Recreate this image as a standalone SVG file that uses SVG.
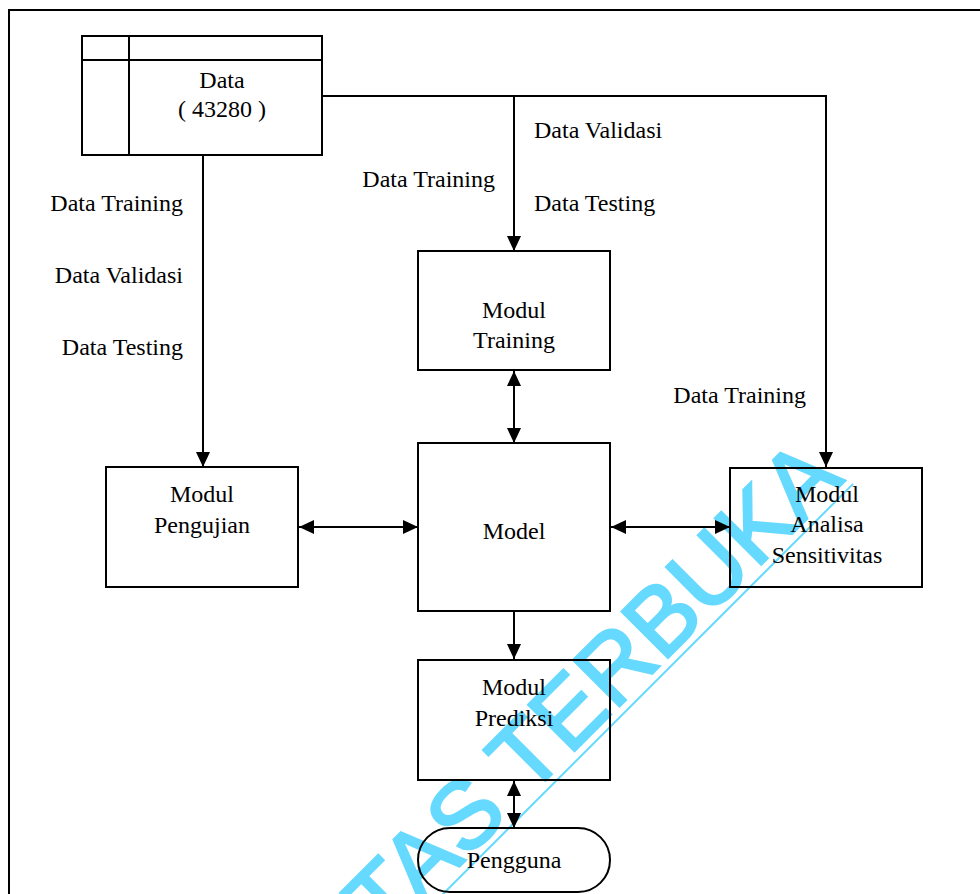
<svg xmlns="http://www.w3.org/2000/svg" width="980" height="894" viewBox="0 0 980 894">
  <style>
    .box { fill: none; stroke: #000; stroke-width: 2; }
    .conn { fill: none; stroke: #000; stroke-width: 2; }
    .mid { text-anchor: middle; }
    .end { text-anchor: end; }
  </style>
  <defs>
    <marker id="head" markerUnits="userSpaceOnUse" markerWidth="15" markerHeight="14" refX="15" refY="7" orient="auto-start-reverse">
      <path d="M0,0 L15,7 L0,14 z" fill="#000"/>
    </marker>
  </defs>

  <rect width="980" height="894" fill="#fff"/>

  <!-- watermark -->
  <g id="watermark" transform="translate(443,894) rotate(-45)">
    <line x1="-300" y1="0" x2="580" y2="0" stroke="#66d9ff" stroke-width="2"/>
    <text x="577" y="-8" text-anchor="end" font-family="'Liberation Sans', Arial, sans-serif" font-size="95" fill="#66d9ff" stroke="#66d9ff" stroke-width="2.5">UNIVERSITAS TERBUKA</text>
  </g>

  <!-- page frame -->
  <path class="conn" d="M9,894 V10 H980"/>

  <!-- connectors -->
  <g id="connectors">
    <path class="conn" d="M203,155 V467" marker-end="url(#head)"/>
    <path class="conn" d="M322,96 H826 V467" marker-end="url(#head)"/>
    <path class="conn" d="M514,96 V251" marker-end="url(#head)"/>
    <path class="conn" d="M514,371 V443" marker-start="url(#head)" marker-end="url(#head)"/>
    <path class="conn" d="M299,527 H418" marker-start="url(#head)" marker-end="url(#head)"/>
    <path class="conn" d="M611,527 H730" marker-start="url(#head)" marker-end="url(#head)"/>
    <path class="conn" d="M514,611 V659" marker-end="url(#head)"/>
    <path class="conn" d="M514,781 V828" marker-start="url(#head)" marker-end="url(#head)"/>
  </g>

  <g font-family="'Liberation Serif', 'Times New Roman', serif" font-size="24" fill="#000">
    <!-- flow labels -->
    <g id="labels">
      <text class="end" x="183" y="211">Data Training</text>
      <text class="end" x="183" y="283">Data Validasi</text>
      <text class="end" x="183" y="355">Data Testing</text>
      <text x="534" y="138">Data Validasi</text>
      <text class="end" x="495" y="187">Data Training</text>
      <text x="534" y="211">Data Testing</text>
      <text class="end" x="806" y="403">Data Training</text>
    </g>

    <!-- data store -->
    <g id="data">
      <rect class="box" x="82" y="36" width="240" height="119"/>
      <line class="box" x1="129" y1="36" x2="129" y2="155"/>
      <line class="box" x1="82" y1="60" x2="322" y2="60"/>
      <text class="mid" x="222" y="88">Data</text>
      <text class="mid" x="222" y="117">( 43280 )</text>
    </g>

    <g id="modul-training">
      <rect class="box" x="418" y="251" width="192" height="119"/>
      <text class="mid" x="514" y="318">Modul</text>
      <text class="mid" x="514" y="348">Training</text>
    </g>

    <g id="model">
      <rect class="box" x="418" y="443" width="192" height="168"/>
      <text class="mid" x="514" y="539">Model</text>
    </g>

    <g id="modul-pengujian">
      <rect class="box" x="106" y="467" width="192" height="120"/>
      <text class="mid" x="202" y="502">Modul</text>
      <text class="mid" x="202" y="533">Pengujian</text>
    </g>

    <g id="modul-analisa">
      <rect class="box" x="730" y="468" width="192" height="119"/>
      <text class="mid" x="827" y="502">Modul</text>
      <text class="mid" x="827" y="532">Analisa</text>
      <text class="mid" x="827" y="563">Sensitivitas</text>
    </g>

    <g id="modul-prediksi">
      <rect class="box" x="418" y="660" width="192" height="120"/>
      <text class="mid" x="514" y="695">Modul</text>
      <text class="mid" x="514" y="726">Prediksi</text>
    </g>

    <g id="pengguna">
      <rect class="box" x="418" y="828" width="192" height="64" rx="32" ry="32"/>
      <text class="mid" x="514" y="868">Pengguna</text>
    </g>
  </g>
</svg>
